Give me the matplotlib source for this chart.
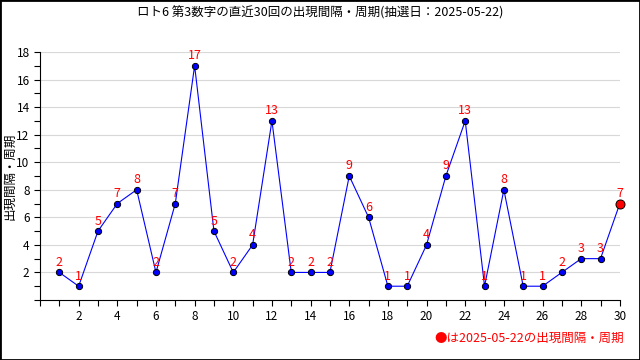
import matplotlib
matplotlib.use("Agg")
import matplotlib.pyplot as plt
from matplotlib.patches import Rectangle
from matplotlib.ticker import MultipleLocator

plt.rcParams['font.family'] = ['Noto Sans CJK JP', 'DejaVu Sans']

draw = list(range(1, 31))
interval = [2, 1, 5, 7, 8, 2, 7, 17, 5, 2, 4, 13, 2, 2, 2, 9, 6, 1, 1, 4,
            9, 13, 1, 8, 1, 1, 2, 3, 3, 7]
title = "ロト6 第3数字の直近30回の出現間隔・周期(抽選日：2025-05-22)"
ylabel = "出現間隔・周期"
note = "●は2025-05-22の出現間隔・周期"

fig = plt.figure(figsize=(6.4, 3.6), dpi=100)
ax = fig.add_axes([0.0625, 0.1667, 0.906, 0.689])

ax.plot(draw, interval, color='blue', lw=0.8, marker='o', ms=4.5,
        mfc='blue', mec='black', mew=0.7, zorder=3, clip_on=False)
ax.plot(draw[-1], interval[-1], marker='o', ms=6.5, mfc='red', mec='black',
        mew=0.7, zorder=4, clip_on=False)
for x, y in zip(draw, interval):
    ax.annotate(str(y), (x, y), xytext=(0, 2.5), textcoords='offset points',
                ha='center', va='bottom', color='red', fontsize=9)

ax.set_xlim(0, 30)
ax.set_ylim(0, 18)
ax.set_xticks(range(2, 31, 2))
ax.xaxis.set_minor_locator(MultipleLocator(1))
ax.set_yticks(range(2, 19, 2))
ax.yaxis.set_minor_locator(MultipleLocator(1))
ax.tick_params(which='both', direction='out', length=4, width=0.8, labelsize=8.5)
ax.grid(axis='y', which='major', color='#d8d8d8', lw=0.8)
ax.set_axisbelow(True)
for s in ['top', 'right']:
    ax.spines[s].set_visible(False)
ax.set_ylabel(ylabel, fontsize=9)
ax.yaxis.set_label_coords(-0.04, 0.5)

fig.text(0.5, 0.965, title, ha='center', va='center', fontsize=9)
fig.text(0.975, 0.06, note, ha='right', va='center', color='red', fontsize=9)
fig.patches.append(Rectangle((0, 0), 1, 1, transform=fig.transFigure,
                             fill=False, ec='black', lw=2))

fig.savefig("out.png", dpi=100)
